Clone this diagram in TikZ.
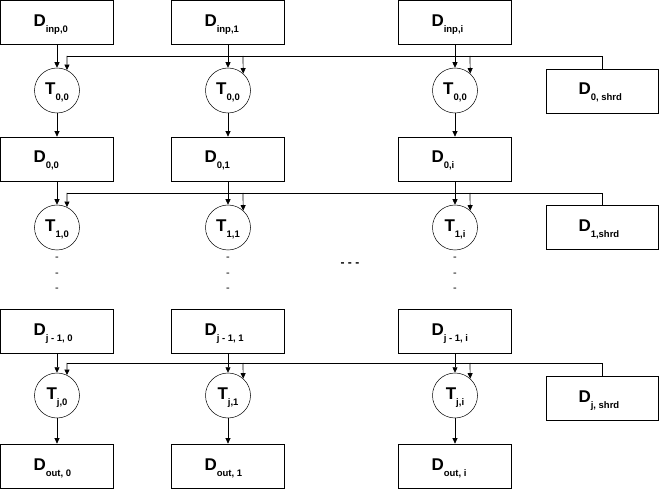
\documentclass[tikz,border=0pt]{standalone}
\usepackage{fontspec}
\setmainfont{Liberation Sans}
\usetikzlibrary{arrows.meta}

% D or T with a small bold index set low
\newcommand{\idx}[2]{{\fontsize{17}{17}\selectfont\bfseries #1}\raisebox{-6pt}{\fontsize{9.5}{9.5}\selectfont\bfseries #2}}
\newcommand{\boxlbl}[2]{\makebox[47pt][l]{\idx{#1}{#2}}}

\begin{document}
\begin{tikzpicture}[x=1pt, y=-1pt, line width=0.7pt,
		>={Triangle[length=5.5pt,width=5pt]},
		databox/.style={draw, minimum width=113pt, minimum height=44pt, inner sep=0pt, text height=14pt, text depth=6pt},
		shrbox/.style={databox, minimum width=112pt},
		task/.style={draw, circle, minimum size=45pt, inner sep=0pt, line width=0.5pt, text height=14pt, text depth=6pt},
		dots/.style={inner sep=0pt, font=\fontsize{11}{11}\selectfont}]
	\useasboundingbox (0,0) rectangle (659,489);

	% shared data, one per stage
	\node[shrbox] (shr0) at (602,91) {\boxlbl{D}{0, shrd}};
	\node[shrbox] (shr1) at (602,227.5) {\boxlbl{D}{1,shrd}};
	\node[shrbox] (shr2) at (602,398) {\boxlbl{D}{j, shrd}};
	\coordinate (bus0) at (67,56);
	\coordinate (bus1) at (67,193);
	\coordinate (bus2) at (67,363);
	\draw (bus0) -| (shr0.north);
	\draw (bus1) -| (shr1.north);
	\draw (bus2) -| (shr2.north);

	\foreach \c/\x/\s/\off/\ang in {0/57/0/10/64, 1/228/1/15/48, 2/455/i/15/48} {
		\node[databox] (inp\c) at (\x,22.5) {\boxlbl{D}{inp,\s}};
		\node[task] (ta\c) at (\x,90.5) {\idx{T}{0,0}};
		\node[databox] (d0\c) at (\x,159) {\boxlbl{D}{0,\s}};
		\node[task] (tb\c) at (\x,227.5) {\idx{T}{1,\s}};
		\node[dots] (da\c) at (\x,259) {-};
		\node[dots] (db\c) at (\x,275) {-};
		\node[dots] (dc\c) at (\x,290) {-};
		\node[databox] (dj\c) at (\x,331) {\boxlbl{D}{j - 1, \s}};
		\node[task] (tc\c) at (\x,395.5) {\idx{T}{j,\s}};
		\node[databox] (out\c) at (\x,466) {\boxlbl{D}{out, \s}};

		\coordinate (ja\c) at (\x+\off,56);
		\coordinate (jb\c) at (\x+\off,193);
		\coordinate (jc\c) at (\x+\off,363);

		\draw[->] (inp\c) -- (ta\c);
		\draw[->] (ja\c) -- (ta\c.\ang);
		\draw[->] (ta\c) -- (d0\c);
		\draw[->] (d0\c) -- (tb\c);
		\draw[->] (jb\c) -- (tb\c.\ang);
		\draw[->] (dj\c) -- (tc\c);
		\draw[->] (jc\c) -- (tc\c.\ang);
		\draw[->] (tc\c) -- (out\c);
	}

	\node[inner sep=0pt, font=\fontsize{12}{12}\selectfont\bfseries] (gap) at (350,265) {- - -};
\end{tikzpicture}
\end{document}
